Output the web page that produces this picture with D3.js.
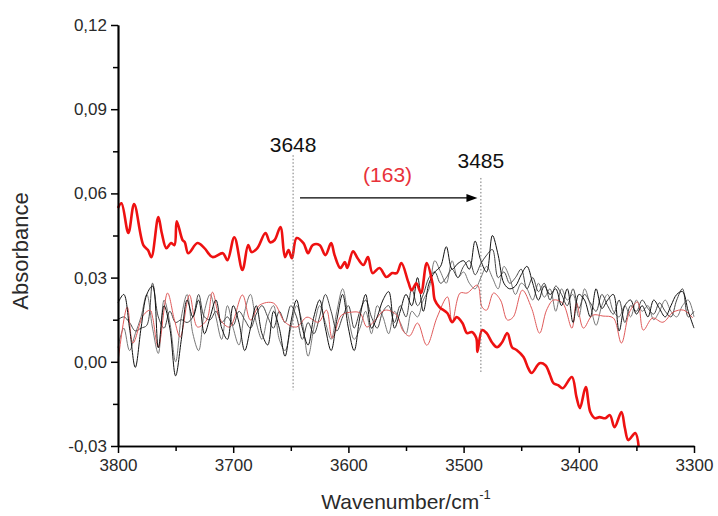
<!DOCTYPE html>
<html>
<head>
<meta charset="utf-8">
<script src="https://cdn.jsdelivr.net/npm/d3@7"></script>
<style>
body { margin:0; background:#fff; }
text { font-family:"Liberation Sans", Arial, sans-serif; }
</style>
</head>
<body>
<svg id="graph1"></svg>
<script>
// wavenumber grid for the three black/grey spectra
var gridWn = [
 3800,3795,3790,3785,3780,3775,3770,3765,3760,3755,
 3750,3745,3740,3735,3730,3725,3720,3715,3710,3705,
 3700,3695,3690,3685,3680,3675,3670,3665,3660,3655,
 3650,3645,3640,3635,3630,3625,3620,3615,3610,3605,
 3600,3595,3590,3585,3580,3575,3570,3565,3560,3555,
 3550,3545,3540,3535,3530,3525,3520,3515,3510,3505,
 3500,3495,3490,3485,3480,3475,3470,3465,3460,3455,
 3450,3445,3440,3435,3430,3425,3420,3415,3410,3405,
 3400,3395,3390,3385,3380,3375,3370,3365,3360,3355,
 3350,3345,3340,3335,3330,3325,3320,3315,3310,3305,
 3300];

var blackA = [
 0.021,0.024,0.012,-0.002,0.012,0.024,0.027,0.005,0.020,0.012,
 -0.005,0.008,0.022,0.016,0.022,0.010,0.016,0.022,0.012,0.008,
 0.020,0.014,0.004,0.012,0.020,0.010,0.006,0.018,0.012,0.002,
 0.014,0.022,0.012,0.006,0.016,0.022,0.012,0.004,0.015,0.024,
 0.012,0.004,0.016,0.024,0.012,0.016,0.022,0.025,0.012,0.018,
 0.024,0.020,0.030,0.018,0.028,0.032,0.034,0.041,0.033,0.035,
 0.036,0.033,0.043,0.036,0.032,0.045,0.038,0.028,0.026,0.027,
 0.031,0.034,0.028,0.022,0.027,0.024,0.026,0.020,0.026,0.014,
 0.024,0.022,0.016,0.026,0.019,0.022,0.024,0.011,0.020,0.022,
 0.017,0.020,0.016,0.022,0.019,0.016,0.020,0.024,0.025,0.018,
 0.012];

var greyB = [
 0.015,0.016,0.014,0.011,0.012,0.013,0.028,0.016,0.012,0.018,
 0.014,0.015,0.014,0.016,0.024,0.016,0.015,0.018,0.014,0.016,
 0.013,0.018,0.015,0.012,0.017,0.020,0.016,0.012,0.018,0.014,
 0.020,0.016,0.008,0.014,0.010,0.016,0.024,0.018,0.011,0.016,
 0.020,0.012,0.018,0.022,0.016,0.012,0.018,0.020,0.014,0.020,
 0.016,0.026,0.020,0.024,0.030,0.032,0.028,0.030,0.033,0.030,
 0.034,0.036,0.031,0.035,0.038,0.040,0.030,0.032,0.028,0.030,
 0.033,0.026,0.030,0.025,0.028,0.022,0.027,0.024,0.020,0.026,
 0.019,0.024,0.021,0.018,0.024,0.020,0.017,0.022,0.014,0.020,
 0.018,0.022,0.019,0.017,0.021,0.018,0.016,0.022,0.026,0.016,
 0.018];

var greyC = [
 0.005,0.012,0.004,0.010,0.016,0.024,0.012,0.003,0.022,0.014,
 0.000,0.016,0.024,0.010,0.004,0.018,0.024,0.016,0.008,0.020,
 0.012,0.006,0.018,0.024,0.014,0.008,0.016,0.020,0.008,0.004,
 0.012,0.020,0.014,0.002,0.012,0.020,0.014,0.008,0.018,0.026,
 0.016,0.008,0.012,0.018,0.010,0.020,0.016,0.010,0.018,0.014,
 0.010,0.018,0.016,0.022,0.026,0.036,0.032,0.028,0.036,0.030,
 0.032,0.028,0.026,0.030,0.034,0.030,0.026,0.034,0.030,0.024,
 0.028,0.026,0.022,0.028,0.023,0.026,0.018,0.026,0.022,0.024,
 0.016,0.026,0.020,0.013,0.020,0.024,0.018,0.016,0.020,0.016,
 0.022,0.018,0.020,0.015,0.018,0.022,0.018,0.016,0.020,0.022,
 0.016];

// thin red spectrum
var redThinWn = [3800,3792,3787,3778,3772,3770,3765,3757,3751,3746,3738,3731,3723,3718,3711,3703,3692,3685,3677,3665,
 3655,3645,3636,3626,3619,3614,3606,3597,3590,3584,3579,3568,3558,3553,3547,3540,3532,3523,3514,3510,
 3503,3497,3488,3484,3480,3474,3468,3462,3457,3449,3441,3434,3428,3422,3414,3406,3402,3396,3388,3379,
 3370,3363,3356,3349,3344,3336,3327,3318,3309,3301];
var redThinAbs = [0.0000,0.0195,0.0067,0.0166,0.0184,0.0159,0.0052,0.0245,0.0149,0.0088,0.0238,0.0124,0.0149,0.0248,0.0149,0.0124,0.0238,0.0149,0.0202,0.0209,
 0.0141,0.0124,0.0159,0.0141,0.0184,0.0084,0.0166,0.0177,0.0174,0.0124,0.0138,0.0184,0.0166,0.0113,0.0092,0.0138,0.0059,0.0159,0.0231,0.0141,
 0.0245,0.0245,0.0273,0.0195,0.0184,0.0245,0.0220,0.0149,0.0159,0.0255,0.0191,0.0102,0.0184,0.0220,0.0209,0.0120,0.0209,0.0120,0.0166,0.0163,
 0.0156,0.0067,0.0177,0.0213,0.0113,0.0156,0.0141,0.0177,0.0184,0.0156];

// thick red spectrum
var redThickWn = [3800,3797,3791,3786,3778,3774,3771,3765,3762,3758,3754,3751,3749,3744,3742,3739,3731,3725,3718,3709,
 3705,3699,3692,3687,3684,3679,3672,3668,3664,3659,3655,3652,3649,3645,3639,3635,3631,3625,3620,3615,
 3612,3607,3603,3601,3596,3592,3587,3583,3579,3573,3567,3562,3558,3554,3548,3545,3541,3537,3532,3527,
 3525,3521,3514,3510,3506,3501,3497,3493,3489,3488,3484,3480,3475,3471,3467,3462,3458,3454,3448,3444,
 3441,3434,3429,3425,3422,3418,3414,3406,3402,3399,3394,3390,3386,3382,3377,3373,3369,3363,3360,3357,
 3351,3348];
var redThickAbs = [0.0548,0.0565,0.0459,0.0562,0.0416,0.0398,0.0373,0.0516,0.0459,0.0405,0.0423,0.0416,0.0501,0.0434,0.0426,0.0387,0.0423,0.0405,0.0373,0.0387,
 0.0362,0.0444,0.0327,0.0416,0.0391,0.0405,0.0459,0.0426,0.0434,0.0480,0.0373,0.0398,0.0369,0.0441,0.0423,0.0387,0.0416,0.0416,0.0380,0.0423,
 0.0380,0.0334,0.0355,0.0334,0.0394,0.0369,0.0345,0.0373,0.0316,0.0334,0.0302,0.0316,0.0316,0.0352,0.0284,0.0255,0.0280,0.0245,0.0352,0.0280,
 0.0220,0.0195,0.0173,0.0141,0.0159,0.0138,0.0102,0.0106,0.0085,0.0035,0.0113,0.0102,0.0067,0.0052,0.0067,0.0102,0.0052,0.0042,0.0017,-0.0022,
 -0.0040,-0.0005,-0.0012,-0.0047,-0.0076,-0.0083,-0.0094,-0.0054,-0.0126,-0.0165,-0.0090,-0.0179,-0.0201,-0.0197,-0.0201,-0.0190,-0.0233,-0.0179,-0.0236,-0.0279,
 -0.0254,-0.0304];

var yTicks = [-0.03, 0.00, 0.03, 0.06, 0.09, 0.12];
var yMinorTicks = [-0.015, 0.015, 0.045, 0.075, 0.105];
var xTicks = [3800, 3700, 3600, 3500, 3400, 3300];
var xMinorTicks = [3750, 3650, 3550, 3450, 3350];

// annotation values
var peakFrom = 3648;
var peakTo = 3485;
var shiftLabel = "(163)";

var toPoints = function(wn, abs)
{
    var n = Math.min(wn.length, abs.length);
    var pts = [];
    for (var i = 0; i < n; i++)
        {pts.push({wn:wn[i], abs:abs[i]})}
    return pts;
}

var commaFormat = function(v)
{
    return v.toFixed(2).replace(".", ",");
}

var createAxes = function(margins, graph, target, xScale, yScale)
{
    var svg = d3.select(target);

    var yAxis = d3.axisLeft(yScale).tickValues(yTicks).tickFormat(commaFormat)
        .tickSize(7).tickSizeOuter(0).tickPadding(4);
    var yMinor = d3.axisLeft(yScale).tickValues(yMinorTicks).tickFormat("")
        .tickSize(5).tickSizeOuter(0);
    var xAxis = d3.axisBottom(xScale).tickValues(xTicks).tickFormat(d3.format("d"))
        .tickSize(7).tickSizeOuter(0).tickPadding(6);
    var xMinor = d3.axisBottom(xScale).tickValues(xMinorTicks).tickFormat("")
        .tickSize(5).tickSizeOuter(0);

    var axes = svg.append("g").classed("axes", true);

    axes.append("g").attr("transform", "translate(" + margins.left + ",0)").call(yMinor);
    axes.append("g").attr("transform", "translate(" + margins.left + ",0)").call(yAxis);
    axes.append("g").attr("transform", "translate(0," + (margins.top + graph.height) + ")").call(xMinor);
    axes.append("g").attr("transform", "translate(0," + (margins.top + graph.height) + ")").call(xAxis);

    axes.selectAll(".domain").attr("stroke", "#000").attr("stroke-width", 1.7);
    axes.selectAll(".tick line").attr("stroke", "#000").attr("stroke-width", 1.5);
    axes.selectAll(".tick text")
        .attr("font-family", "Liberation Sans, Arial, sans-serif")
        .attr("font-size", 17)
        .attr("fill", "#2a2a2a");
}

var createLabels = function(margins, graph, target)
{
    var labels = d3.select(target).append("g").classed("labels", true);

    labels.append("g")
        .attr("transform", "translate(28,251)")
        .append("text")
        .text("Absorbance")
        .attr("text-anchor", "middle")
        .attr("font-size", 22)
        .attr("fill", "#2a2a2a")
        .attr("transform", "rotate(-90)");

    var xl = labels.append("text")
        .attr("x", margins.left + graph.width / 2)
        .attr("y", 509)
        .attr("text-anchor", "middle")
        .attr("font-size", 21)
        .attr("fill", "#2a2a2a");
    xl.append("tspan").text("Wavenumber/cm");
    xl.append("tspan").text("-1").attr("font-size", 13).attr("dy", -10);
}

var drawLines = function(target, xScale, yScale)
{
    var lineGenerator = d3.line()
        .x(function(d) { return xScale(d.wn); })
        .y(function(d) { return yScale(d.abs); })
        .curve(d3.curveCatmullRom.alpha(0.5));

    var g = d3.select(target).select(".graph");

    var series = [
        {pts:toPoints(gridWn, greyC), color:"#777777", width:1},
        {pts:toPoints(gridWn, greyB), color:"#444444", width:1},
        {pts:toPoints(redThinWn, redThinAbs), color:"#e05a5a", width:1},
        {pts:toPoints(gridWn, blackA), color:"#111111", width:1},
        {pts:toPoints(redThickWn, redThickAbs), color:"#ee1111", width:2.6}
    ];

    series.forEach(function(s)
    {
        g.append("path")
            .datum(s.pts)
            .attr("fill", "none")
            .attr("stroke", s.color)
            .attr("stroke-width", s.width)
            .attr("stroke-linejoin", "round")
            .attr("d", lineGenerator);
    });
}

var drawAnnotations = function(target, xScale, yScale)
{
    var g = d3.select(target).append("g").classed("notes", true);

    g.append("line")
        .attr("x1", xScale(peakFrom)).attr("x2", xScale(peakFrom))
        .attr("y1", yScale(0.0736)).attr("y2", yScale(-0.0101))
        .attr("stroke", "#777").attr("stroke-width", 1).attr("stroke-dasharray", "1.5,2");
    g.append("line")
        .attr("x1", xScale(peakTo)).attr("x2", xScale(peakTo))
        .attr("y1", yScale(0.0655)).attr("y2", yScale(-0.0040))
        .attr("stroke", "#777").attr("stroke-width", 1).attr("stroke-dasharray", "1.5,2");

    g.append("text").text(String(peakFrom))
        .attr("x", xScale(peakFrom)).attr("y", yScale(0.0747))
        .attr("text-anchor", "middle").attr("font-size", 21).attr("fill", "#111");
    g.append("text").text(String(peakTo))
        .attr("x", xScale(peakTo)).attr("y", yScale(0.0690))
        .attr("text-anchor", "middle").attr("font-size", 21).attr("fill", "#111");
    g.append("text").text(shiftLabel)
        .attr("x", xScale(3566)).attr("y", yScale(0.0641))
        .attr("text-anchor", "middle").attr("font-size", 21).attr("fill", "#e8323a");

    // arrow
    var ay = yScale(0.0584);
    var x0 = xScale(3642), x1 = xScale(3488);
    g.append("line")
        .attr("x1", x0).attr("x2", x1 - 9)
        .attr("y1", ay).attr("y2", ay)
        .attr("stroke", "#000").attr("stroke-width", 1.2);
    g.append("path")
        .attr("d", "M" + x1 + "," + ay + " L" + (x1 - 11) + "," + (ay - 4) + " L" + (x1 - 11) + "," + (ay + 4) + " Z")
        .attr("fill", "#000");
}

var firstgraph = function(target)
{
    var screen = {width:718, height:516};
    var margins = {top:25, bottom:70, left:118, right:24};
    var graph =
    {
        width:screen.width - margins.left - margins.right,
        height:screen.height - margins.top - margins.bottom
    };

    d3.select(target)
        .attr("width", screen.width)
        .attr("height", screen.height);

    var xScale = d3.scaleLinear()
        .domain([3800, 3300])
        .range([margins.left, margins.left + graph.width]);

    var yScale = d3.scaleLinear()
        .domain([-0.03, 0.12])
        .range([margins.top + graph.height, margins.top]);

    d3.select(target).append("g").classed("graph", true);

    drawLines(target, xScale, yScale);
    createAxes(margins, graph, target, xScale, yScale);
    createLabels(margins, graph, target);
    drawAnnotations(target, xScale, yScale);
}

firstgraph("#graph1");
</script>
</body>
</html>
